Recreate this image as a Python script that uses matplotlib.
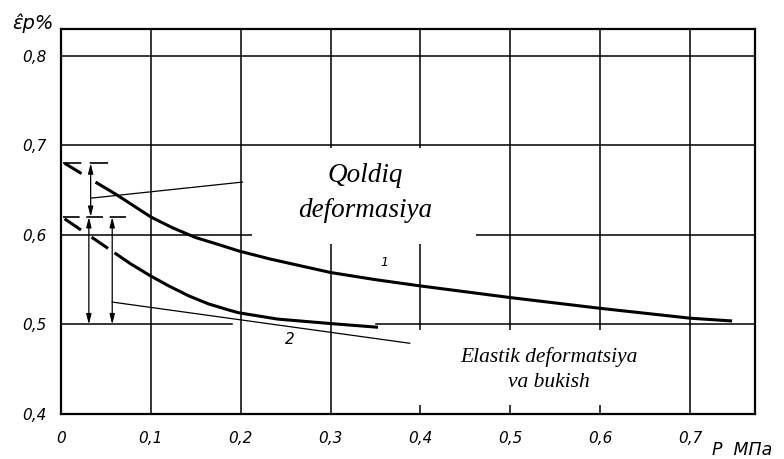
import matplotlib.pyplot as plt
from matplotlib.patches import Rectangle

# curve 1: measured part and its extrapolation to P = 0
p1 = [0.040, 0.060, 0.077, 0.100, 0.124, 0.150, 0.176, 0.198, 0.233, 0.300,
      0.350, 0.400, 0.500, 0.600, 0.700, 0.745]
eps1 = [0.658, 0.646, 0.635, 0.620, 0.608, 0.597, 0.589, 0.582, 0.573, 0.558,
        0.550, 0.543, 0.530, 0.518, 0.507, 0.504]
p1_ext = [0.004, 0.040]
eps1_ext = [0.680, 0.658]

# curve 2
p2 = [0.061, 0.077, 0.100, 0.120, 0.142, 0.164, 0.187, 0.198, 0.241, 0.300, 0.351]
eps2 = [0.579, 0.568, 0.554, 0.543, 0.532, 0.523, 0.516, 0.513, 0.506, 0.501, 0.497]
p2_ext = [0.004, 0.061]
eps2_ext = [0.618, 0.579]

# levels used for the deformation split
eps_total = 0.68
eps_split = 0.62
eps_base = 0.5

x_ticks = [0, 0.1, 0.2, 0.3, 0.4, 0.5, 0.6, 0.7]
x_labels = ['0', '0,1', '0,2', '0,3', '0,4', '0,5', '0,6', '0,7']
y_ticks = [0.4, 0.5, 0.6, 0.7, 0.8]
y_labels = ['0,4', '0,5', '0,6', '0,7', '0,8']

fig = plt.figure(figsize=(7.84, 4.59), dpi=100)
ax = fig.add_axes([0.0778, 0.098, 0.885, 0.839])
ax.set_xlim(0, 0.772)
ax.set_ylim(0.4, 0.83)

# grid
for x in x_ticks[1:]:
    ax.axvline(x, color='k', lw=1.1, zorder=1)
for y in [0.6, 0.7, 0.8]:
    ax.axhline(y, color='k', lw=1.1, zorder=1)
ax.plot([0, 0.19], [eps_base, eps_base], color='k', lw=1.1, zorder=1)
ax.plot([0.35, 0.772], [eps_base, eps_base], color='k', lw=1.1, zorder=1)

# white fields for the captions
ax.add_patch(Rectangle((0.212, 0.590), 0.250, 0.107, facecolor='white',
                       edgecolor='none', zorder=3))
ax.add_patch(Rectangle((0.372, 0.41), 0.324, 0.084, facecolor='white',
                       edgecolor='none', zorder=3))

# curves
ax.plot(p1, eps1, color='k', lw=2.2, zorder=4, solid_joinstyle='round')
ax.plot(p1_ext, eps1_ext, color='k', lw=2.2, ls=(0, (6.5, 5.5)), zorder=4)
ax.plot(p2, eps2, color='k', lw=2.2, zorder=4, solid_joinstyle='round')
ax.plot(p2_ext, eps2_ext, color='k', lw=2.2, ls=(0, (6.5, 4.2)), zorder=4)

# dashed level lines
ax.plot([0.002, 0.060], [eps_total, eps_total], color='k', lw=1.2, ls=(0, (11, 5)), zorder=4)
ax.plot([0.002, 0.072], [eps_split, eps_split], color='k', lw=1.2, ls=(0, (10, 4)), zorder=4)

# dimension arrows
arrow = dict(arrowstyle='<|-|>,head_length=0.6,head_width=0.15', lw=0.9,
             color='k', shrinkA=0, shrinkB=0)
ax.annotate('', xy=(0.033, eps_total), xytext=(0.033, eps_split), arrowprops=arrow, zorder=4)
ax.annotate('', xy=(0.031, eps_split), xytext=(0.031, eps_base), arrowprops=arrow, zorder=4)
ax.annotate('', xy=(0.057, eps_split), xytext=(0.057, eps_base), arrowprops=arrow, zorder=4)

# leader lines to the captions
ax.plot([0.033, 0.202], [0.641, 0.659], color='k', lw=0.9, zorder=4)
ax.plot([0.057, 0.388], [0.525, 0.479], color='k', lw=0.9, zorder=4)

ax.text(0.338, 0.647, 'Qoldiq\ndeformasiya', family='Liberation Serif', style='italic',
        fontsize=19.5, ha='center', va='center', linespacing=1.5, zorder=5)
ax.text(0.543, 0.450, 'Elastik deformatsiya\nva bukish', family='Liberation Serif',
        style='italic', fontsize=15.5, ha='center', va='center', linespacing=1.45, zorder=5)

ax.text(0.360, 0.569, '1', style='italic', fontsize=9, ha='center', va='center', zorder=5)
ax.text(0.255, 0.483, '2', style='italic', fontsize=11, ha='center', va='center', zorder=5)

ax.set_xticks(x_ticks)
ax.set_xticklabels(x_labels, style='italic', fontsize=11)
ax.set_yticks(y_ticks)
ax.set_yticklabels(y_labels, style='italic', fontsize=11)
ax.tick_params(length=0, pad=10)
ax.tick_params(axis='x', pad=12)
for s in ax.spines.values():
    s.set_linewidth(1.6)

fig.text(0.016, 0.950, 'ε̂p%', style='italic', fontsize=14, ha='left', va='center')
fig.text(0.908, 0.020, 'P  МПа', style='italic', fontsize=12.5, ha='left', va='center')

fig.savefig('out.png', dpi=100)
